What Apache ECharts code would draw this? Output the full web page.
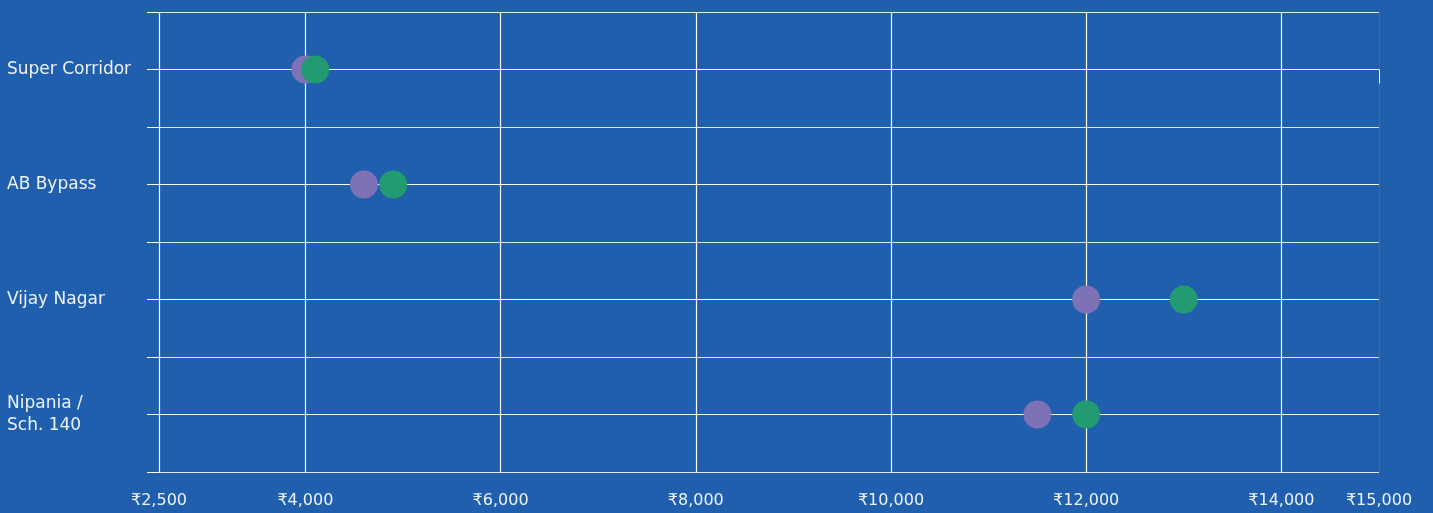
<!DOCTYPE html>
<html>
<head>
<meta charset="utf-8">
<script src="https://cdn.jsdelivr.net/npm/echarts@6/dist/echarts.min.js"></script>
<style>
  html, body { margin: 0; padding: 0; background: #1f5fae; }
  #chart { width: 1433px; height: 513px; }
</style>
</head>
<body>
<div id="chart"></div>
<script>
// Localities, top to bottom
const localities = ['Super Corridor', 'AB Bypass', 'Vijay Nagar', 'Nipania /\nSch. 140'];
// Rate per sq ft (₹), two readings per locality
const seriesLow  = [4000, 4600, 12000, 11500];
const seriesHigh = [4100, 4900, 13000, 12000];
const xMin = 2500;
const xMax = 15000;

const fontFamily = '"DejaVu Sans", "Open Sans", sans-serif';
const textColor = '#eef2f9';

function toPoints(values) {
  return values.map((v, i) => [v, i]);
}

const chart = echarts.init(document.getElementById('chart'));
chart.setOption({
  backgroundColor: '#1f5fae',
  animation: false,
  grid: { left: 159, right: 54, top: 12, bottom: 41 },
  xAxis: {
    type: 'value',
    min: xMin,
    max: xMax,
    splitNumber: 6,
    axisLine: { show: false },
    axisTick: { show: true, length: 14, lineStyle: { color: '#ffffff', width: 1 } },
    splitLine: {
      show: true,
      lineStyle: { color: ['#ffffff', '#ffffff', '#ffffff', '#ffffff', '#ffffff', '#ffffff', '#ffffff', '#5f636b'], width: 1.2 }
    },
    axisLabel: {
      color: textColor,
      fontFamily: fontFamily,
      fontSize: 16,
      fontWeight: 'normal',
      margin: 21,
      showMinLabel: true,
      showMaxLabel: true,
      hideOverlap: false,
      formatter: v => '₹' + v.toLocaleString('en-US')
    }
  },
  yAxis: {
    type: 'value',
    min: -0.5,
    max: 3.5,
    interval: 0.5,
    inverse: true,
    axisLine: { show: false },
    axisTick: { show: true, length: 12, lineStyle: { color: '#ffffff', width: 1 } },
    splitLine: { show: true, lineStyle: { color: ['#dfe7f3', '#ffffff'], width: 1 } },
    axisLabel: {
      color: textColor,
      fontFamily: fontFamily,
      fontSize: 17,
      fontWeight: 'normal',
      align: 'left',
      margin: 152,
      lineHeight: 22,
      formatter: v => Number.isInteger(v) ? localities[v] : ''
    }
  },
  series: [
    {
      type: 'scatter',
      data: toPoints(seriesLow),
      symbolSize: 28,
      itemStyle: { color: '#7d72b5', opacity: 1 },
      z: 2
    },
    {
      type: 'scatter',
      data: toPoints(seriesHigh),
      symbolSize: 28,
      itemStyle: { color: '#239b72', opacity: 1 },
      z: 3
    }
  ]
});
</script>
</body>
</html>
